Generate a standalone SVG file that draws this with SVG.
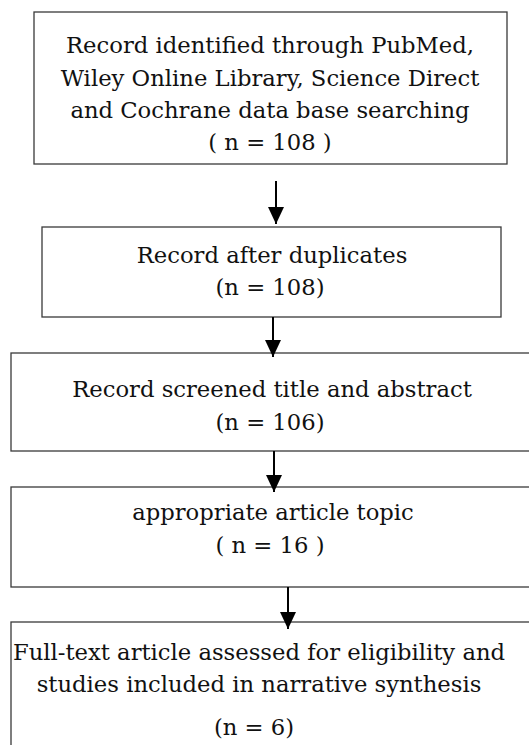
<svg xmlns="http://www.w3.org/2000/svg" width="529" height="745" viewBox="0 0 529 745">
<defs>
<style>
.box{fill:#fff;stroke:#3a3a3a;stroke-width:1.3}
.t{font-family:"DejaVu Serif","Liberation Serif",serif;font-size:22.7px;fill:#111;text-anchor:middle}
.c{stroke:#000;stroke-width:2;fill:none}
</style>
<marker id="ah" markerUnits="userSpaceOnUse" markerWidth="17" markerHeight="16" refX="17" refY="8" orient="auto" viewBox="0 0 17 16">
<path d="M0,0 L17,8 L0,16 z" fill="#000"/>
</marker>
</defs>
<rect width="529" height="745" fill="#fff"/>
<g id="n1">
<rect class="box" x="34" y="12" width="473" height="152"/>
<text class="t" x="270" y="53">Record identified through PubMed,</text>
<text class="t" x="270" y="86">Wiley Online Library, Science Direct</text>
<text class="t" x="270" y="118">and Cochrane data base searching</text>
<text class="t" x="270" y="150">( n = 108 )</text>
</g>
<g id="n2">
<rect class="box" x="42" y="227" width="459" height="90"/>
<text class="t" x="272" y="263">Record after duplicates</text>
<text class="t" x="270" y="295">(n = 108)</text>
</g>
<g id="n3">
<rect class="box" x="11" y="353" width="530" height="98"/>
<text class="t" x="272" y="397">Record screened title and abstract</text>
<text class="t" x="270" y="430">(n = 106)</text>
</g>
<g id="n4">
<rect class="box" x="11" y="487" width="530" height="100"/>
<text class="t" x="273" y="520">appropriate article topic</text>
<text class="t" x="270" y="553">( n = 16 )</text>
</g>
<g id="n5">
<rect class="box" x="11" y="622" width="530" height="140"/>
<text class="t" x="259" y="660">Full-text article assessed for eligibility and</text>
<text class="t" x="259" y="692">studies included in narrative synthesis</text>
<text class="t" x="254" y="735">(n = 6)</text>
</g>
<g id="connectors">
<line class="c" x1="276" y1="181" x2="276" y2="224" marker-end="url(#ah)"/>
<line class="c" x1="273" y1="317" x2="273" y2="357" marker-end="url(#ah)"/>
<line class="c" x1="274" y1="451" x2="274" y2="492" marker-end="url(#ah)"/>
<line class="c" x1="288" y1="587" x2="288" y2="629" marker-end="url(#ah)"/>
</g>
</svg>
